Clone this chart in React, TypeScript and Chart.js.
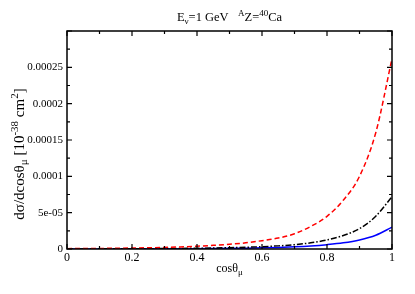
import React, { useEffect, useRef } from "react";
import { Chart, registerables } from "chart.js";

Chart.register(...registerables);

const cosTheta = [0, 0.05, 0.1, 0.15, 0.2, 0.25, 0.3, 0.35, 0.4, 0.45, 0.5, 0.55, 0.6, 0.65, 0.7, 0.75, 0.8, 0.85, 0.9, 0.95, 1.0];
const redSeries = [0.5e-6, 0.6e-6, 0.8e-6, 1.0e-6, 1.3e-6, 1.7e-6, 2.2e-6, 2.9e-6, 3.8e-6, 5.0e-6, 6.5e-6, 8.5e-6, 1.15e-5, 1.5e-5, 2.1e-5, 3.1e-5, 4.5e-5, 6.7e-5, 1.0e-4, 1.6e-4, 2.62e-4];
const blackSeries = [0.1e-6, 0.15e-6, 0.2e-6, 0.27e-6, 0.35e-6, 0.45e-6, 0.6e-6, 0.8e-6, 1.0e-6, 1.35e-6, 1.8e-6, 2.4e-6, 3.2e-6, 4.3e-6, 6.0e-6, 8.5e-6, 1.25e-5, 1.85e-5, 2.8e-5, 4.5e-5, 7.2e-5];
const blueSeries = [0.05e-6, 0.07e-6, 0.1e-6, 0.15e-6, 0.2e-6, 0.25e-6, 0.3e-6, 0.4e-6, 0.5e-6, 0.7e-6, 0.9e-6, 1.2e-6, 1.6e-6, 2.2e-6, 3.0e-6, 4.2e-6, 6.0e-6, 8.5e-6, 1.25e-5, 1.9e-5, 3.0e-5];

const xTickLabels = ["0", "0.2", "0.4", "0.6", "0.8", "1"];
const yTickValues = [0, 5e-5, 1e-4, 1.5e-4, 2e-4, 2.5e-4, 3e-4];
const yTickLabels = ["0", "5e-05", "0.0001", "0.00015", "0.0002", "0.00025", ""];

const FONT = "'Liberation Serif', 'Times New Roman', serif";

type Seg = { t: string; s: number; dy: number };

function richWidth(ctx: CanvasRenderingContext2D, segs: Seg[]) {
  let w = 0;
  for (const g of segs) {
    ctx.font = `${g.s}px ${FONT}`;
    w += ctx.measureText(g.t).width;
  }
  return w;
}

function drawRich(ctx: CanvasRenderingContext2D, segs: Seg[], cx: number, by: number) {
  const w = richWidth(ctx, segs);
  let x = cx - w / 2;
  ctx.textAlign = "left";
  ctx.textBaseline = "alphabetic";
  ctx.fillStyle = "#000";
  for (const g of segs) {
    ctx.font = `${g.s}px ${FONT}`;
    ctx.fillText(g.t, x, by + g.dy);
    x += ctx.measureText(g.t).width;
  }
}

const framePlugin = {
  id: "frameTicks",
  afterDraw(chart: any) {
    const ctx: CanvasRenderingContext2D = chart.ctx;
    const { left, right, top, bottom } = chart.chartArea;
    const xs = chart.scales.x;
    const ys = chart.scales.y;
    ctx.save();
    ctx.strokeStyle = "#000";
    ctx.lineWidth = 1.2;
    ctx.beginPath();
    const xt = xs.ticks.map((t: any) => t.value);
    for (let i = 0; i < xt.length; i++) {
      const px = xs.getPixelForValue(xt[i]);
      ctx.moveTo(px, bottom);
      ctx.lineTo(px, bottom - 5);
      ctx.moveTo(px, top);
      ctx.lineTo(px, top + 5);
      if (i < xt.length - 1) {
        const pm = xs.getPixelForValue((xt[i] + xt[i + 1]) / 2);
        ctx.moveTo(pm, bottom);
        ctx.lineTo(pm, bottom - 3);
        ctx.moveTo(pm, top);
        ctx.lineTo(pm, top + 3);
      }
    }
    const yt = ys.ticks.map((t: any) => t.value);
    for (let i = 0; i < yt.length; i++) {
      const py = ys.getPixelForValue(yt[i]);
      ctx.moveTo(left, py);
      ctx.lineTo(left + 5, py);
      ctx.moveTo(right, py);
      ctx.lineTo(right - 5, py);
      if (i < yt.length - 1) {
        const pm = ys.getPixelForValue((yt[i] + yt[i + 1]) / 2);
        ctx.moveTo(left, pm);
        ctx.lineTo(left + 3, pm);
        ctx.moveTo(right, pm);
        ctx.lineTo(right - 3, pm);
      }
    }
    ctx.stroke();
    ctx.lineWidth = 1.5;
    ctx.strokeRect(left, top, right - left, bottom - top);

    const cx = (left + right) / 2;
    drawRich(ctx, [
      { t: "E", s: 12.5, dy: 0 },
      { t: "ν", s: 9, dy: 3 },
      { t: "=1 GeV   ", s: 12.5, dy: 0 },
      { t: "A", s: 9, dy: -5 },
      { t: "Z=", s: 12.5, dy: 0 },
      { t: "40", s: 9, dy: -5 },
      { t: "Ca", s: 12.5, dy: 0 },
    ], cx, 21);
    drawRich(ctx, [
      { t: "cosθ", s: 12, dy: 0 },
      { t: "μ", s: 9, dy: 3 },
    ], cx, 272);
    ctx.save();
    ctx.translate(24, 154);
    ctx.rotate(-Math.PI / 2);
    drawRich(ctx, [
      { t: "dσ/dcosθ", s: 15, dy: 0 },
      { t: "μ", s: 11, dy: 3 },
      { t: " [10", s: 15, dy: 0 },
      { t: "-38", s: 11, dy: -6 },
      { t: " cm", s: 15, dy: 0 },
      { t: "2", s: 11, dy: -6 },
      { t: "]", s: 15, dy: 0 },
    ], 0, 0);
    ctx.restore();
    ctx.restore();
  },
};

export default function App() {
  const ref = useRef<HTMLCanvasElement | null>(null);
  useEffect(() => {
    if (!ref.current) return;
    const mk = (ys: number[]) => cosTheta.map((x, i) => ({ x, y: ys[i] }));
    const chart = new Chart(ref.current, {
      type: "line",
      data: {
        datasets: [
          { data: mk(redSeries), borderColor: "#ff0000", borderWidth: 1.5, borderDash: [5, 3], pointRadius: 0, cubicInterpolationMode: "monotone", fill: false },
          { data: mk(blackSeries), borderColor: "#000000", borderWidth: 1.5, borderDash: [6, 2, 1.5, 2], pointRadius: 0, cubicInterpolationMode: "monotone", fill: false },
          { data: mk(blueSeries), borderColor: "#0000ff", borderWidth: 1.5, pointRadius: 0, cubicInterpolationMode: "monotone", fill: false },
        ],
      },
      options: {
        animation: false,
        responsive: false,
        maintainAspectRatio: false,
        layout: { padding: { top: 31, right: 23, left: 0, bottom: 0 } },
        plugins: { legend: { display: false }, tooltip: { enabled: false }, title: { display: false } },
        scales: {
          x: {
            type: "linear",
            min: 0,
            max: 1,
            grid: { display: false, drawTicks: false },
            border: { display: false },
            afterFit: (s: any) => { s.height = 45; },
            ticks: {
              stepSize: 0.2,
              padding: 2,
              color: "#000",
              font: { family: FONT, size: 12 },
              maxRotation: 0,
              callback: (v: any) => xTickLabels[Math.round(Number(v) / 0.2)] ?? "",
            },
          },
          y: {
            type: "linear",
            min: 0,
            max: 3e-4,
            grid: { display: false, drawTicks: false },
            border: { display: false },
            afterFit: (s: any) => { s.width = 67; },
            ticks: {
              stepSize: 5e-5,
              padding: 4,
              color: "#000",
              font: { family: FONT, size: 11 },
              callback: (v: any) => {
                const idx = yTickValues.findIndex((t) => Math.abs(t - Number(v)) < 1e-9);
                return idx >= 0 ? yTickLabels[idx] : "";
              },
            },
          },
        },
      },
      plugins: [framePlugin],
    } as any);
    return () => chart.destroy();
  }, []);
  return (
    <div style={{ position: "fixed", left: 0, top: 0, width: 415, height: 294, background: "#fff" }}>
      <canvas ref={ref} width={415} height={294} style={{ display: "block", width: 415, height: 294 }} />
    </div>
  );
}
